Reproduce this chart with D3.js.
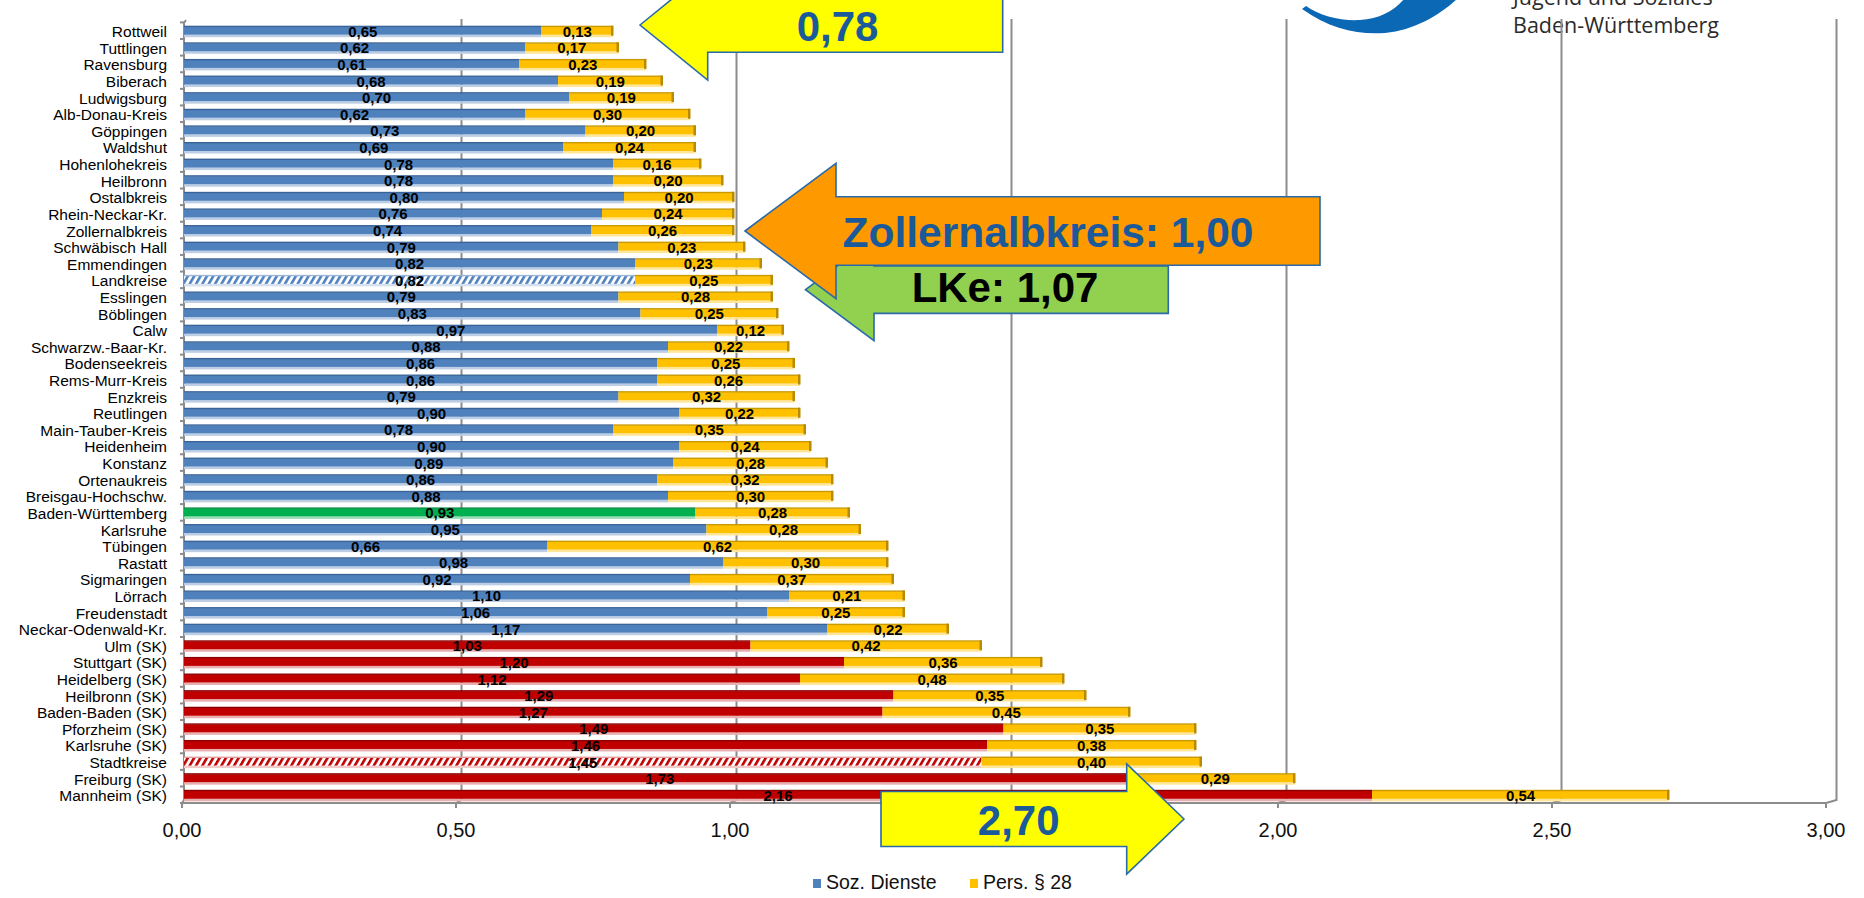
<!DOCTYPE html>
<html>
<head>
<meta charset="utf-8">
<script src="https://cdn.jsdelivr.net/npm/d3@7"></script>
<style>
  html, body { margin: 0; padding: 0; background: #ffffff; }
  svg { display: block; }
</style>
</head>
<body>
<script>
// ---------------- DATA ----------------
const categories = [
  "Rottweil", "Tuttlingen", "Ravensburg", "Biberach", "Ludwigsburg", "Alb-Donau-Kreis",
  "Göppingen", "Waldshut", "Hohenlohekreis", "Heilbronn", "Ostalbkreis", "Rhein-Neckar-Kr.",
  "Zollernalbkreis", "Schwäbisch Hall", "Emmendingen", "Landkreise", "Esslingen", "Böblingen",
  "Calw", "Schwarzw.-Baar-Kr.", "Bodenseekreis", "Rems-Murr-Kreis", "Enzkreis", "Reutlingen",
  "Main-Tauber-Kreis", "Heidenheim", "Konstanz", "Ortenaukreis", "Breisgau-Hochschw.",
  "Baden-Württemberg", "Karlsruhe", "Tübingen", "Rastatt", "Sigmaringen", "Lörrach",
  "Freudenstadt", "Neckar-Odenwald-Kr.", "Ulm (SK)", "Stuttgart (SK)", "Heidelberg (SK)",
  "Heilbronn (SK)", "Baden-Baden (SK)", "Pforzheim (SK)", "Karlsruhe (SK)", "Stadtkreise",
  "Freiburg (SK)", "Mannheim (SK)"
];
const sozDienste = [
  0.65, 0.62, 0.61, 0.68, 0.70, 0.62, 0.73, 0.69, 0.78, 0.78, 0.80, 0.76,
  0.74, 0.79, 0.82, 0.82, 0.79, 0.83, 0.97, 0.88, 0.86, 0.86, 0.79, 0.90,
  0.78, 0.90, 0.89, 0.86, 0.88, 0.93, 0.95, 0.66, 0.98, 0.92, 1.10, 1.06,
  1.17, 1.03, 1.20, 1.12, 1.29, 1.27, 1.49, 1.46, 1.45, 1.73, 2.16
];
const pers28 = [
  0.13, 0.17, 0.23, 0.19, 0.19, 0.30, 0.20, 0.24, 0.16, 0.20, 0.20, 0.24,
  0.26, 0.23, 0.23, 0.25, 0.28, 0.25, 0.12, 0.22, 0.25, 0.26, 0.32, 0.22,
  0.35, 0.24, 0.28, 0.32, 0.30, 0.28, 0.28, 0.62, 0.30, 0.37, 0.21, 0.25,
  0.22, 0.42, 0.36, 0.48, 0.35, 0.45, 0.35, 0.38, 0.40, 0.29, 0.54
];
// kind of each row: lk = Landkreis, lkAvg = Landkreise average, bw = state, sk = Stadtkreis, skAvg = Stadtkreise average
const rowKinds = [
  "lk","lk","lk","lk","lk","lk","lk","lk","lk","lk","lk","lk",
  "lk","lk","lk","lkAvg","lk","lk","lk","lk","lk","lk","lk","lk",
  "lk","lk","lk","lk","lk","bw","lk","lk","lk","lk","lk","lk",
  "lk","sk","sk","sk","sk","sk","sk","sk","skAvg","sk","sk"
];
const xTicks = [0, 0.5, 1, 1.5, 2, 2.5, 3];
const seriesNames = ["Soz. Dienste", "Pers. § 28"];
const seriesColors = ["#4F81BD", "#FFC000"];
const calloutTexts = ["0,78", "Zollernalbkreis: 1,00", "LKe: 1,07", "2,70"];
const logoLines = ["Jugend und Soziales", "Baden-Württemberg"];

// ---------------- SETUP ----------------
const W = 1864, H = 898;
const fmt = v => d3.format(".2f")(v).replace(".", ",");
const svg = d3.select("body").append("svg").attr("width", W).attr("height", H);

const x = d3.scaleLinear().domain([0, 3]).range([184, 1834]);      // back wall / bars
const xFront = d3.scaleLinear().domain([0, 3]).range([182, 1826]); // floor front edge
const y = d3.scaleBand().domain(categories).range([22.4, 803.1]).padding(0);
const barH = 8;
const cy = c => y(c) + y.bandwidth() / 2;

const fills = { lk: "#4F81BD", bw: "#00B050", sk: "#C00000", lkAvg: "url(#hatchBlue)", skAvg: "url(#hatchRed)" };
const tops = { lk: "#3A6497", bw: "#008A3E", sk: "#8C0000", lkAvg: "#9DB6D8", skAvg: "#E2A0A0", y: "#C99A00" };
const shades = { lk: "#BCCDE4", bw: "#9ADDB6", sk: "#E8B0B0", lkAvg: "#D7E2F0", skAvg: "#F2CACA", y: "#FFE699" };

// patterns
const defs = svg.append("defs");
[["hatchBlue", "#4F81BD"], ["hatchRed", "#C00000"]].forEach(([id, col]) => {
  const p = defs.append("pattern").attr("id", id).attr("patternUnits", "userSpaceOnUse")
    .attr("width", 5.5).attr("height", 10).attr("patternTransform", "rotate(30)");
  p.append("rect").attr("width", 5.5).attr("height", 10).attr("fill", "#ffffff");
  p.append("rect").attr("width", 2.6).attr("height", 10).attr("fill", col);
});

// ---------------- LOGO (top right, clipped) ----------------
const logo = svg.append("g");
logo.append("path")
  .attr("d", "M1302,9 C1330,29 1358,35 1385,33 C1415,30 1440,15 1458,-2 L1405,-2 C1395,10 1380,19 1360,20 C1340,21 1320,16 1306,6 Z")
  .attr("fill", "#0A68B4");
logo.selectAll("text").data(logoLines).join("text")
  .attr("x", 1513).attr("y", (d, i) => 5 + i * 28)
  .attr("font-family", "'Open Sans', 'DejaVu Sans', sans-serif")
  .attr("font-size", 21.5).attr("fill", "#2b2b2b")
  .text(d => d);

// ---------------- GRID / AXES ----------------
const grid = svg.append("g").attr("fill", "none").attr("stroke", "#8C8C8C").attr("stroke-width", 2);
grid.selectAll("path.g").data(xTicks.filter(v => v > 0)).join("path").attr("class", "g")
  .attr("d", v => `M${x(v) + 2.5},19 V800 L${xFront(v)},803 V808`);
// left axis (wall edge)
grid.append("path").attr("d", `M${x(0) + 2},20 L${x(0)},23 V800 L${xFront(0)},803 V808`);
// floor front line
grid.append("path").attr("d", `M${xFront(0)},803 H${xFront(3)}`);
// left ticks
grid.selectAll("path.t").data(categories.concat(["__end"])).join("path").attr("class", "t")
  .attr("d", (c, i) => { const yy = i < categories.length ? y(c) : y.range()[1]; return `M${x(0) - 4},${yy} H${x(0)}`; });

// tick labels
svg.append("g").selectAll("text").data(xTicks).join("text")
  .attr("x", v => xFront(v)).attr("y", 837)
  .attr("text-anchor", "middle")
  .attr("font-family", "'Liberation Sans', Arial, sans-serif")
  .attr("font-size", 20).attr("fill", "#111")
  .text(v => fmt(v));

// category labels
svg.append("g").selectAll("text").data(categories).join("text")
  .attr("x", 167).attr("y", c => cy(c) + 6.5)
  .attr("text-anchor", "end")
  .attr("font-family", "'Liberation Sans', Arial, sans-serif")
  .attr("font-size", 15.5).attr("fill", "#000")
  .text(c => c);

// ---------------- BARS ----------------
const rows = categories.map((c, i) => ({ c, s: sozDienste[i], p: pers28[i], k: rowKinds[i] }));
const rowG = svg.append("g").selectAll("g").data(rows).join("g")
  .attr("transform", d => `translate(0,${cy(d.c)})`);

rowG.append("rect").attr("x", x(0)).attr("y", barH / 2).attr("width", d => x(d.s) - x(0)).attr("height", 2.5)
  .attr("fill", d => shades[d.k]);
rowG.append("rect").attr("x", x(0)).attr("y", -barH / 2).attr("width", d => x(d.s) - x(0)).attr("height", barH)
  .attr("fill", d => fills[d.k]);
rowG.append("rect").attr("x", x(0)).attr("y", -barH / 2 - 1).attr("width", d => x(d.s) - x(0)).attr("height", 1.4)
  .attr("fill", d => tops[d.k]);

rowG.append("rect").attr("x", d => x(d.s)).attr("y", barH / 2).attr("width", d => x(d.s + d.p) - x(d.s)).attr("height", 2.5)
  .attr("fill", shades.y);
rowG.append("rect").attr("x", d => x(d.s)).attr("y", -barH / 2).attr("width", d => x(d.s + d.p) - x(d.s)).attr("height", barH)
  .attr("fill", seriesColors[1]);
rowG.append("rect").attr("x", d => x(d.s)).attr("y", -barH / 2 - 1).attr("width", d => x(d.s + d.p) - x(d.s)).attr("height", 1.4)
  .attr("fill", tops.y);
rowG.append("rect").attr("x", d => x(d.s + d.p) - 2).attr("y", -barH / 2 - 1).attr("width", 2.5).attr("height", barH + 2)
  .attr("fill", "#B88A00");

const lblFont = "'Liberation Sans', Arial, sans-serif";
rowG.append("text")
  .attr("x", d => (x(0) + x(d.s)) / 2).attr("y", 6)
  .attr("text-anchor", "middle").attr("font-family", lblFont).attr("font-weight", "bold")
  .attr("font-size", 15).attr("fill", "#000").text(d => fmt(d.s));
rowG.append("text")
  .attr("x", d => (x(d.s) + x(d.s + d.p)) / 2).attr("y", 6)
  .attr("text-anchor", "middle").attr("font-family", lblFont).attr("font-weight", "bold")
  .attr("font-size", 15).attr("fill", "#000").text(d => fmt(d.p));

// ---------------- LEGEND ----------------
const legend = svg.append("g");
const legX = [813, 970];
seriesNames.forEach((n, i) => {
  legend.append("rect").attr("x", legX[i]).attr("y", 879).attr("width", 8).attr("height", 9).attr("fill", seriesColors[i]);
  legend.append("text").attr("x", legX[i] + 13).attr("y", 889)
    .attr("font-family", lblFont).attr("font-size", 19.5).attr("fill", "#111").text(n);
});

// ---------------- CALLOUT ARROWS ----------------
function leftArrow(tipX, cyy, headX, headHalf, shaftHalf, endX) {
  return `M${tipX},${cyy} L${headX},${cyy - headHalf} L${headX},${cyy - shaftHalf} L${endX},${cyy - shaftHalf} ` +
         `L${endX},${cyy + shaftHalf} L${headX},${cyy + shaftHalf} L${headX},${cyy + headHalf} Z`;
}
function rightArrow(tailX, cyy, headX, headHalf, shaftHalf, tipX) {
  return `M${tipX},${cyy} L${headX},${cyy - headHalf} L${headX},${cyy - shaftHalf} L${tailX},${cyy - shaftHalf} ` +
         `L${tailX},${cyy + shaftHalf} L${headX},${cyy + shaftHalf} L${headX},${cyy + headHalf} Z`;
}
const ann = svg.append("g").attr("stroke", "#2A6AA8").attr("stroke-width", 1.6).attr("stroke-linejoin", "miter");
const annFont = "'Liberation Sans', Arial, sans-serif";

ann.append("path").attr("d", leftArrow(640, 25, 707.7, 55, 27.3, 1002.7)).attr("fill", "#FFFF00");
ann.append("text").attr("x", 837.5).attr("y", 41).attr("text-anchor", "middle").attr("stroke", "none")
  .attr("font-family", annFont).attr("font-weight", "bold").attr("font-size", 42).attr("fill", "#1A5A9A")
  .text(calloutTexts[0]);

ann.append("path").attr("d", leftArrow(805.5, 289.7, 874, 51, 23.7, 1168.3)).attr("fill", "#92D050");
ann.append("path").attr("d", leftArrow(745, 231, 836, 67.7, 34.3, 1320)).attr("fill", "#FF9900");
ann.append("text").attr("x", 1048).attr("y", 247).attr("text-anchor", "middle").attr("stroke", "none")
  .attr("font-family", annFont).attr("font-weight", "bold").attr("font-size", 42.5).attr("fill", "#1A5A9A")
  .text(calloutTexts[1]);
ann.append("text").attr("x", 1005).attr("y", 301.5).attr("text-anchor", "middle").attr("stroke", "none")
  .attr("font-family", annFont).attr("font-weight", "bold").attr("font-size", 42).attr("fill", "#000")
  .text(calloutTexts[2]);

ann.append("path").attr("d", rightArrow(881, 819, 1126.7, 55, 27.5, 1184)).attr("fill", "#FFFF00");
ann.append("text").attr("x", 1018.7).attr("y", 835).attr("text-anchor", "middle").attr("stroke", "none")
  .attr("font-family", annFont).attr("font-weight", "bold").attr("font-size", 42).attr("fill", "#1A5A9A")
  .text(calloutTexts[3]);
</script>
</body>
</html>
